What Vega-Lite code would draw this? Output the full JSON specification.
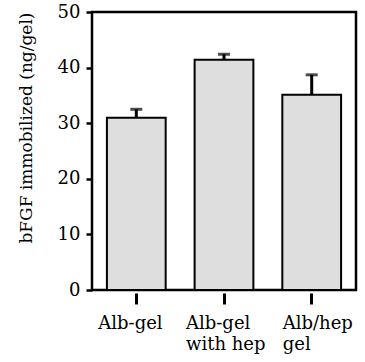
{
  "$schema": "https://vega.github.io/schema/vega-lite/v6.json",
  "width": 264,
  "height": 278,
  "autosize": {"type": "none"},
  "padding": {"left": 92, "top": 12, "right": 9, "bottom": 72},
  "background": "white",
  "config": {
    "view": {"stroke": "black", "strokeWidth": 2.5},
    "font": "DejaVu Serif",
    "axis": {"labelFont": "DejaVu Serif", "titleFont": "DejaVu Serif", "labelColor": "black", "titleColor": "black", "tickColor": "black", "grid": false}
  },
  "data": {
    "values": [
      {"group": "Alb-gel", "value": 31.0, "upper": 32.5},
      {"group": "Alb-gel with hep", "value": 41.4, "upper": 42.4},
      {"group": "Alb/hep gel", "value": 35.1, "upper": 38.7}
    ]
  },
  "encoding": {
    "x": {
      "field": "group",
      "type": "nominal",
      "sort": null,
      "scale": {"paddingInner": 0.33, "paddingOuter": 0.17},
      "axis": {
        "title": null,
        "domain": false,
        "labelAngle": 0,
        "offset": 3,
        "tickSize": 11,
        "tickWidth": 3,
        "labelFontSize": 18,
        "labelAlign": "left",
        "labelOffset": {"condition": {"test": "datum.value == 'Alb/hep gel'", "value": -29}, "value": -38},
        "labelPadding": 10,
        "labelLineHeight": 21,
        "labelExpr": "datum.label == 'Alb-gel with hep' ? ['Alb-gel', 'with hep'] : datum.label == 'Alb/hep gel' ? ['Alb/hep', 'gel'] : datum.label"
      }
    }
  },
  "layer": [
    {
      "mark": {"type": "bar", "fill": "#dedede", "stroke": "black", "strokeWidth": 2},
      "encoding": {
        "y": {
          "field": "value",
          "type": "quantitative",
          "scale": {"domain": [0, 50], "nice": false},
          "axis": {
            "title": "bFGF immobilized (ng/gel)",
            "titleFontSize": 17,
            "titleFontWeight": "normal",
            "titlePadding": 22,
            "titleAnchor": "end",
            "domain": false,
            "values": [0, 10, 20, 30, 40, 50],
            "tickSize": 6,
            "tickWidth": 2.5,
            "labelFontSize": 18,
            "labelPadding": 6
          }
        }
      }
    },
    {
      "mark": {"type": "rule", "stroke": "black", "strokeWidth": 3},
      "encoding": {
        "y": {"field": "value", "type": "quantitative"},
        "y2": {"field": "upper"}
      }
    },
    {
      "mark": {"type": "tick", "color": "black", "size": 12, "thickness": 3, "orient": "horizontal"},
      "encoding": {
        "y": {"field": "upper", "type": "quantitative"}
      }
    }
  ]
}
